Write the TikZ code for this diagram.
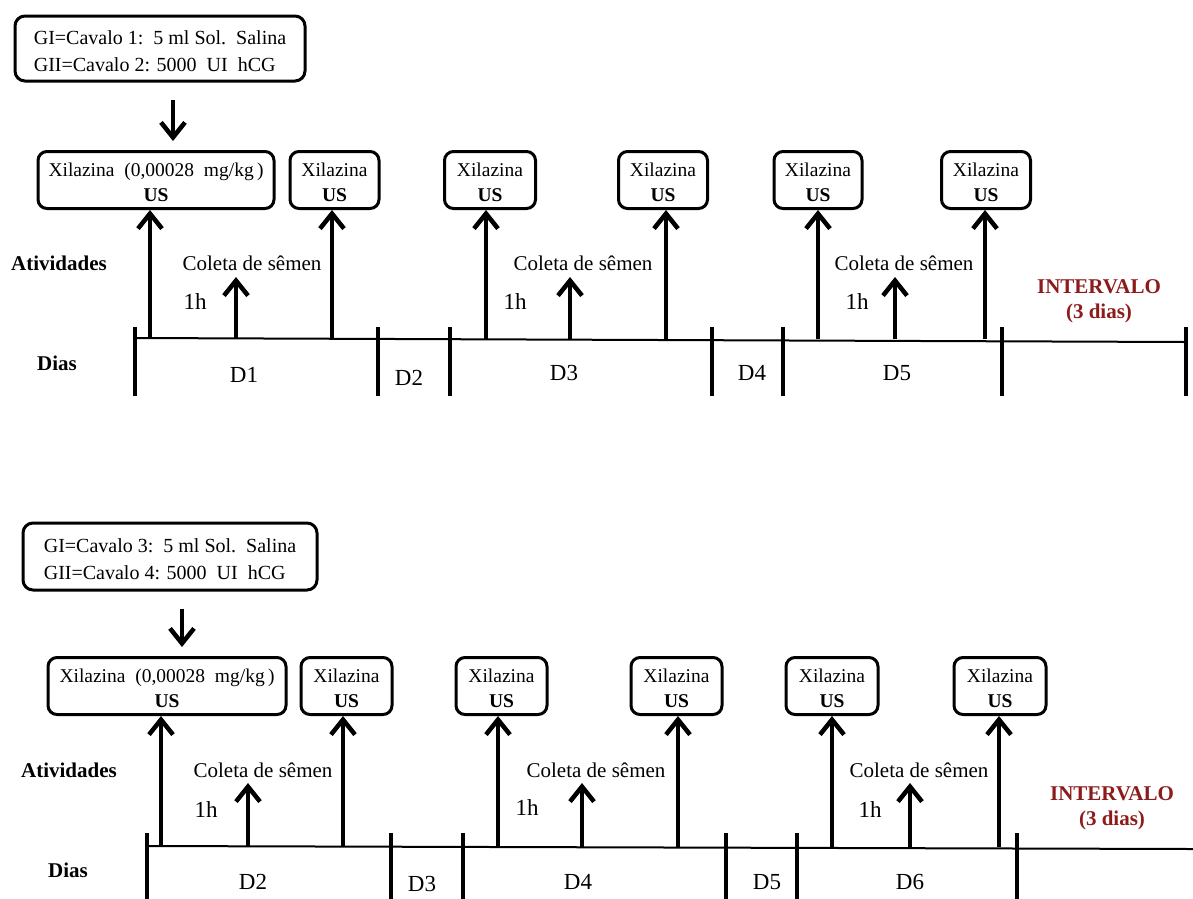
\documentclass[tikz,border=0pt]{standalone}
\usepackage{fontspec}
\setmainfont{Liberation Serif}
\usetikzlibrary{arrows.meta}
\definecolor{intred}{RGB}{140,28,28}
% two-line content of a sedation box
\newcommand{\xilus}[1]{\rule{0pt}{19pt}#1\\\textbf{US}}
\begin{document}
\begin{tikzpicture}[x=1pt,y=-1pt,
  dose/.style={draw, line width=3pt, rounded corners=9pt, align=center,
    inner sep=0pt, minimum height=57pt,
    font=\fontsize{19.5}{25}\selectfont},
  info/.style={draw, line width=3pt, rounded corners=10pt, align=left,
    inner sep=0pt, font=\fontsize{20}{27}\selectfont},
  up/.style={line width=4pt, -{Straight Barb[length=15pt,width=24pt,line width=4.5pt]}},
  daytick/.style={line width=4.2pt},
  axis/.style={line width=2pt},
  rowlbl/.style={font=\fontsize{21}{24}\selectfont\bfseries},
  daylbl/.style={font=\fontsize{23}{26}\selectfont},
  act/.style={font=\fontsize{21}{24}\selectfont},
  hr/.style={font=\fontsize{23}{26}\selectfont},
  gap/.style={font=\fontsize{21}{25}\selectfont\bfseries, text=intred, align=center},
]
\useasboundingbox (0,0) rectangle (1193,898);

% ---------------- first group: Cavalo 1 and 2 ----------------
\node[info, minimum width=290pt, minimum height=65pt] (g1) at (160,48.5)
  {\rule{0pt}{19pt}GI=Cavalo 1:\ \ 5 ml Sol.\ \ Salina\\GII=Cavalo 2: 5000\ \ UI\ \ hCG};

\node[dose, minimum width=236pt] (a1) at (156,180) {\xilus{Xilazina\ \ (0,00028\ \ mg/kg\,)}};
\node[dose, minimum width=89pt] (a2) at (334.5,180) {\xilus{Xilazina}};
\node[dose, minimum width=91pt] (a3) at (490,180) {\xilus{Xilazina}};
\node[dose, minimum width=89pt] (a4) at (663,180) {\xilus{Xilazina}};
\node[dose, minimum width=88pt] (a5) at (818,180) {\xilus{Xilazina}};
\node[dose, minimum width=89pt] (a6) at (986,180) {\xilus{Xilazina}};

\draw[up, shorten <=17pt, shorten >=9pt] ([xshift=13pt]g1.south) -- ([xshift=17pt]a1.north);

\node[rowlbl] (act1) at (59,263) {Atividades};
\node[rowlbl] (dias1) at (57,363) {Dias};

% day boundaries and the time line
\foreach \n/\x in {1/135,2/378,3/450,4/712,5/783,6/1002,7/1186}{
  \coordinate (ta\n) at (\x,327);
  \coordinate (tb\n) at (\x,396);
  \draw[daytick] (ta\n) -- (tb\n);
}
\coordinate (axA0) at (135,338);
\coordinate (axA1) at (1186,342);
\draw[axis] (axA0) -- (axA1);

% Xilazina / US arrows
\foreach \n/\x/\b in {1/150/a1,2/332/a2,3/486/a3,4/666/a4,5/818/a5,6/985/a6}{
  \coordinate (pa\n) at (\x,339);
  \draw[up] (pa\n) -- (pa\n |- \b.south);
}
% semen collection arrows
\foreach \n/\x in {1/236,2/570,3/895}{
  \coordinate (sa\n) at (\x,339);
  \coordinate (se\n) at (\x,277);
  \draw[up] (sa\n) -- (se\n);
}

\node[act] (ca1) at (252,263) {Coleta de sêmen};
\node[act] (ca2) at (583,263) {Coleta de sêmen};
\node[act] (ca3) at (904,263) {Coleta de sêmen};
\node[hr] (ha1) at (195,302) {1h};
\node[hr] (ha2) at (515,302) {1h};
\node[hr] (ha3) at (857,302) {1h};

\node[daylbl] (da1) at (244,375) {D1};
\node[daylbl] (da2) at (409,378) {D2};
\node[daylbl] (da3) at (564,373) {D3};
\node[daylbl] (da4) at (752,373) {D4};
\node[daylbl] (da5) at (897,373) {D5};

\node[gap] (ia) at (1099,301) {INTERVALO\\(3 dias)};

% ---------------- second group: Cavalo 3 and 4 ----------------
\node[info, minimum width=294pt, minimum height=67pt] (g2) at (170,556.5)
  {\rule{0pt}{19pt}GI=Cavalo 3:\ \ 5 ml Sol.\ \ Salina\\GII=Cavalo 4: 5000\ \ UI\ \ hCG};

\node[dose, minimum width=238pt] (b1) at (167,686) {\xilus{Xilazina\ \ (0,00028\ \ mg/kg\,)}};
\node[dose, minimum width=91pt] (b2) at (346.5,686) {\xilus{Xilazina}};
\node[dose, minimum width=91pt] (b3) at (501.5,686) {\xilus{Xilazina}};
\node[dose, minimum width=91pt] (b4) at (676.5,686) {\xilus{Xilazina}};
\node[dose, minimum width=92pt] (b5) at (832,686) {\xilus{Xilazina}};
\node[dose, minimum width=92pt] (b6) at (1000,686) {\xilus{Xilazina}};

\draw[up, shorten <=17pt, shorten >=9pt] ([xshift=12pt]g2.south) -- ([xshift=15pt]b1.north);

\node[rowlbl] (act2) at (69,770) {Atividades};
\node[rowlbl] (dias2) at (68,870) {Dias};

\foreach \n/\x in {1/147,2/391,3/463,4/726,5/797,6/1017}{
  \coordinate (tc\n) at (\x,833);
  \coordinate (td\n) at (\x,900);
  \draw[daytick] (tc\n) -- (td\n);
}
\coordinate (axB0) at (147,846);
\coordinate (axB1) at (1193,849);
\draw[axis] (axB0) -- (axB1);

\foreach \n/\x/\b in {1/161/b1,2/343/b2,3/498/b3,4/678/b4,5/832/b5,6/999/b6}{
  \coordinate (pb\n) at (\x,847);
  \draw[up] (pb\n) -- (pb\n |- \b.south);
}
\foreach \n/\x in {1/248,2/582,3/910}{
  \coordinate (sb\n) at (\x,847);
  \coordinate (sf\n) at (\x,783);
  \draw[up] (sb\n) -- (sf\n);
}

\node[act] (cb1) at (263,770) {Coleta de sêmen};
\node[act] (cb2) at (596,770) {Coleta de sêmen};
\node[act] (cb3) at (919,770) {Coleta de sêmen};
\node[hr] (hb1) at (206,810) {1h};
\node[hr] (hb2) at (527,808) {1h};
\node[hr] (hb3) at (870,810) {1h};

\node[daylbl] (db2) at (253,882) {D2};
\node[daylbl] (db3) at (422,884) {D3};
\node[daylbl] (db4) at (578,882) {D4};
\node[daylbl] (db5) at (767,882) {D5};
\node[daylbl] (db6) at (910,882) {D6};

\node[gap] (ib) at (1112,808) {INTERVALO\\(3 dias)};
\end{tikzpicture}
\end{document}
